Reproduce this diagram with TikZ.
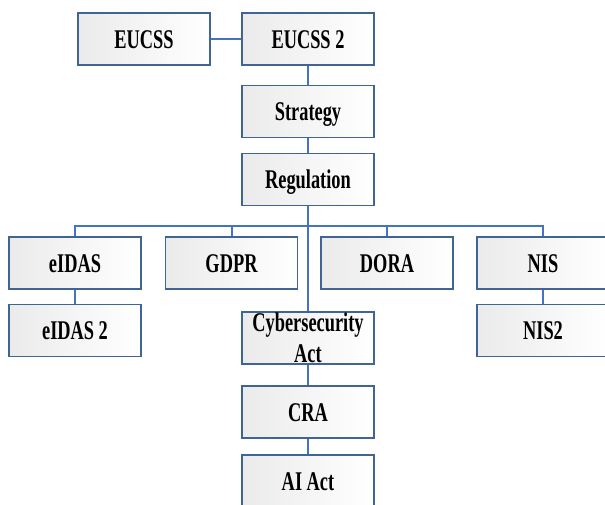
\documentclass[tikz,border=0pt]{standalone}
\usepackage{fontspec}
\newfontfamily\boxfont{Liberation Serif}[FakeStretch=0.68]
\usetikzlibrary{calc}

\definecolor{boxline}{RGB}{65,100,150}
\definecolor{linkline}{RGB}{68,114,196}

\tikzset{
    lawbox/.style={draw=boxline, line width=1.3pt, left color=black!8, right color=white,
        minimum width=132pt, minimum height=52pt, inner sep=0pt,
        font=\boxfont\bfseries\fontsize{27}{31}\selectfont, text height=18pt, text depth=0pt},
    twolinebox/.style={lawbox, text height=, text depth=, align=center},
    link/.style={draw=linkline, line width=2pt}
}

\begin{document}
\begin{tikzpicture}[x=1pt,y=-1pt]
    \useasboundingbox (0,0) rectangle (605,504);

    % パラメータの定義
    \pgfmathsetmacro{\L}{75}
    \pgfmathsetmacro{\M}{308}
    \pgfmathsetmacro{\R}{543}

    % ノードの定義
    \node[lawbox] (eucss) at (144,39) {EUCSS};
    \node[lawbox] (eucss2) at (\M,39) {EUCSS 2};
    \node[lawbox] (strategy) at (\M,111.5) {Strategy};
    \node[lawbox] (regulation) at (\M,179.5) {Regulation};
    \node[lawbox] (eidas) at (\L,263) {eIDAS};
    \node[lawbox] (gdpr) at (231.5,263) {GDPR};
    \node[lawbox] (dora) at (387,263) {DORA};
    \node[lawbox] (nis) at (\R,263) {NIS};
    \node[lawbox] (eidas2) at (\L,330.5) {eIDAS 2};
    \node[twolinebox] (cyber) at (\M,338) {Cybersecurity\\Act};
    \node[lawbox] (nis2) at (\R,330.5) {NIS2};
    \node[lawbox] (cra) at (\M,412) {CRA};
    \node[lawbox] (aiact) at (\M,481) {AI Act};

    % 分岐点
    \coordinate (bus) at (\M,225.5);

    % 線の描画
    \draw[link] (eucss) -- (eucss2);
    \draw[link] (eucss2) -- (strategy);
    \draw[link] (strategy) -- (regulation);
    \draw[link] (regulation) -- (cyber);
    \draw[link] (eidas.north) |- (bus) -| (nis.north);
    \draw[link] (gdpr.north) -- (gdpr.north |- bus);
    \draw[link] (dora.north) -- (dora.north |- bus);
    \draw[link] (eidas) -- (eidas2);
    \draw[link] (nis) -- (nis2);
    \draw[link] (cyber) -- (cra);
    \draw[link] (cra) -- (aiact);

\end{tikzpicture}
\end{document}
